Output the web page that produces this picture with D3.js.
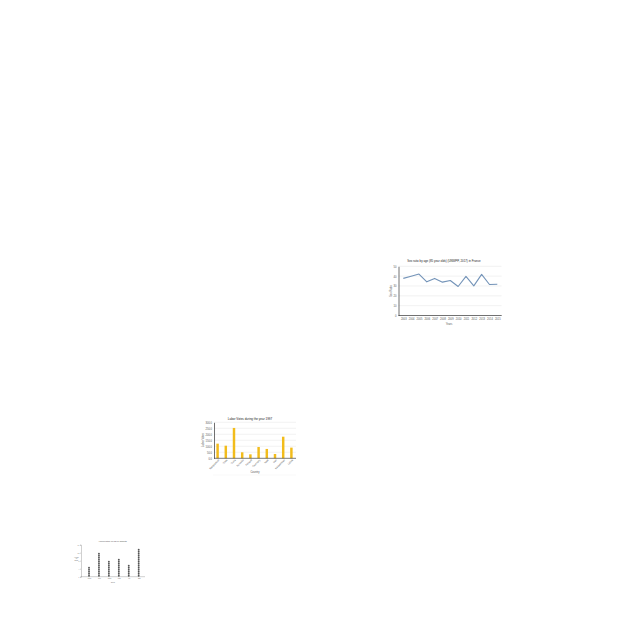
<!DOCTYPE html>
<html><head><meta charset="utf-8">
<script src="https://cdn.jsdelivr.net/npm/d3@7"></script>
<style>
html,body{margin:0;padding:0;background:#fff;}
svg{display:block;font-family:"Liberation Sans",Arial,sans-serif;}
</style></head>
<body>
<svg id="c" width="640" height="640"></svg>
<script>
// ---- Line chart data ----
const years = ["2003","2004","2005","2006","2007","2008","2009","2010","2011","2012","2013","2014","2015"];
const sexRatio = [37.7, 39.9, 42.1, 34.2, 37.7, 33.9, 35.6, 29.5, 39.7, 30.1, 41.8, 31.5, 31.8];
const lineTicks = [0, 10, 20, 30, 40, 50];
const lineTitle = "Sex ratio by age (85 year olds) (UNWPP, 2017) in France";

// ---- Bar chart data ----
const countries = ["Bangladesh","Chile","Cuba","Ecuador","Finland","Germany","Haiti","Iran","Kazakhstan","Latvia"];
const laborValues = [122, 105, 253, 50, 33, 94, 78, 36, 180, 89];
const barTicks = [0, 50, 100, 150, 200, 250, 300];
const barTitle = "Labor Votes during the year 1997";

// ---- Dot chart data ----
const dotCats = ["Mon","Tue","Wed","Thu","Fri","Sat"];
const dotCounts = [5, 12, 8, 9, 6, 14];
const dotTicks = [0, 4, 8, 12, 16];
const dotTitle = "Hours of study per day by students";

const svg = d3.select("#c");

// ===== Line chart =====
(function(){
  const g = svg.append("g");
  const x = d3.scalePoint().domain(years).range([403.3, 497.3]);
  const y = d3.scaleLinear().domain([0, 50]).range([315.5, 266.3]);
  g.selectAll("line.grid").data(lineTicks.slice(1)).join("line")
    .attr("x1", 398.5).attr("x2", 501.5).attr("y1", d=>y(d)).attr("y2", d=>y(d))
    .attr("stroke", "#e2e2e2").attr("stroke-width", 0.45);
  const ya = g.append("g").attr("transform","translate(398.5,0)")
    .call(d3.axisLeft(y).tickValues(lineTicks).tickSize(0).tickPadding(2));
  ya.select(".domain").attr("stroke","#333").attr("stroke-width",0.7);
  ya.selectAll("text").attr("font-size",2.7).attr("fill","#555");
  const xa = g.append("g").attr("transform","translate(0,315.5)")
    .call(d3.axisBottom(x).tickSize(0).tickPadding(2.5));
  xa.select(".domain").attr("d","M398.5,0H501.7").attr("stroke","#333").attr("stroke-width",0.7);
  xa.selectAll("text").attr("font-size",2.6).attr("fill","#555");
  g.append("path").datum(sexRatio)
    .attr("fill","none").attr("stroke","#7393b8").attr("stroke-width",1.1)
    .attr("stroke-linejoin","round")
    .attr("d", d3.line().x((d,i)=>x(years[i])).y(d=>y(d)));
  g.append("text").attr("x",444).attr("y",262).attr("text-anchor","middle")
    .attr("font-size",2.9).attr("fill","#222").text(lineTitle);
  g.append("text").attr("x",449).attr("y",324.8).attr("text-anchor","middle")
    .attr("font-size",2.6).attr("fill","#555").text("Years");
  g.append("text").attr("transform","translate(392,291) rotate(-90)").attr("text-anchor","middle")
    .attr("font-size",2.6).attr("fill","#555").text("Sex Ratio");
})();

// ===== Bar chart =====
(function(){
  const g = svg.append("g");
  const x = d3.scaleBand().domain(countries).range([213.5, 295.5]).paddingInner(0.7).paddingOuter(0.35);
  const y = d3.scaleLinear().domain([0, 300]).range([458.3, 422.3]);
  g.selectAll("line.grid").data(barTicks.slice(1)).join("line")
    .attr("x1", 214).attr("x2", 296).attr("y1", d=>y(d)).attr("y2", d=>y(d))
    .attr("stroke", "#e4e4e4").attr("stroke-width", 0.45);
  g.selectAll("rect").data(laborValues).join("rect")
    .attr("x",(d,i)=>x(countries[i])).attr("width",x.bandwidth())
    .attr("y",d=>y(d)).attr("height",d=>y(0)-y(d))
    .attr("fill","#f2bc1b");
  const ya = g.append("g").attr("transform","translate(214,0)")
    .call(d3.axisLeft(y).tickValues(barTicks).tickFormat(d3.format(".1f")).tickSize(0).tickPadding(2));
  ya.select(".domain").attr("stroke","#333").attr("stroke-width",0.7);
  ya.selectAll("text").attr("font-size",2.6).attr("fill","#555");
  const xa = g.append("g").attr("transform","translate(0,458.3)")
    .call(d3.axisBottom(x).tickSize(0).tickPadding(1.5));
  xa.select(".domain").attr("d","M214,0H296").attr("stroke","#444").attr("stroke-width",0.7);
  xa.selectAll("text").attr("font-size",2.5).attr("fill","#555")
    .attr("text-anchor","end").attr("dy","0.5em")
    .attr("transform","rotate(-45)");
  g.append("line").attr("x1",213).attr("x2",296).attr("y1",475).attr("y2",475)
    .attr("stroke","#eeeeee").attr("stroke-width",0.4);
  g.append("text").attr("x",250).attr("y",420.3).attr("text-anchor","middle")
    .attr("font-size",3).attr("fill","#222").text(barTitle);
  g.append("text").attr("x",255).attr("y",472.8).attr("text-anchor","middle")
    .attr("font-size",2.6).attr("fill","#555").text("Country");
  g.append("text").attr("transform","translate(203.5,440) rotate(-90)").attr("text-anchor","middle")
    .attr("font-size",2.6).attr("fill","#555").text("Labor Votes");
})();

// ===== Dot chart =====
(function(){
  const g = svg.append("g");
  const x = d3.scalePoint().domain(dotCats).range([89, 138.7]);
  const y = d3.scaleLinear().domain([0, 16]).range([576.7, 544.7]);
  const ya = g.append("g").attr("transform","translate(81,0)")
    .call(d3.axisLeft(y).tickValues(dotTicks).tickSize(0.9).tickPadding(0.8));
  ya.select(".domain").attr("stroke","#777").attr("stroke-width",0.35);
  ya.selectAll("line").attr("stroke","#777").attr("stroke-width",0.35);
  ya.selectAll("text").attr("font-size",1.6).attr("fill","#777");
  const xa = g.append("g").attr("transform","translate(0,576.7)")
    .call(d3.axisBottom(x).tickSize(0).tickPadding(1.2));
  xa.select(".domain").attr("d","M81,0H145").attr("stroke","#777").attr("stroke-width",0.35);
  xa.selectAll("text").attr("font-size",1.7).attr("fill","#666");
  const cols = g.selectAll("g.col").data(dotCounts).join("g")
    .attr("transform",(d,i)=>`translate(${x(dotCats[i])},0)`);
  cols.selectAll("circle").data(d=>d3.range(d)).join("circle")
    .attr("cx",0).attr("cy",k=>y(k+0.5)).attr("r",0.95).attr("fill","#555");
  g.append("text").attr("x",112.7).attr("y",542.2).attr("text-anchor","middle")
    .attr("font-size",1.8).attr("fill","#444").text(dotTitle);
  g.append("text").attr("x",113).attr("y",583.4).attr("text-anchor","middle")
    .attr("font-size",1.7).attr("fill","#666").text("Days");
  const yl = g.append("text").attr("x",76.5).attr("y",557.5).attr("text-anchor","middle")
    .attr("font-size",1.6).attr("fill","#666");
  ["Hours","of","study"].forEach((w,i)=>yl.append("tspan").attr("x",76.5).attr("dy",i?1.7:0).text(w));
})();
</script>
</body></html>
